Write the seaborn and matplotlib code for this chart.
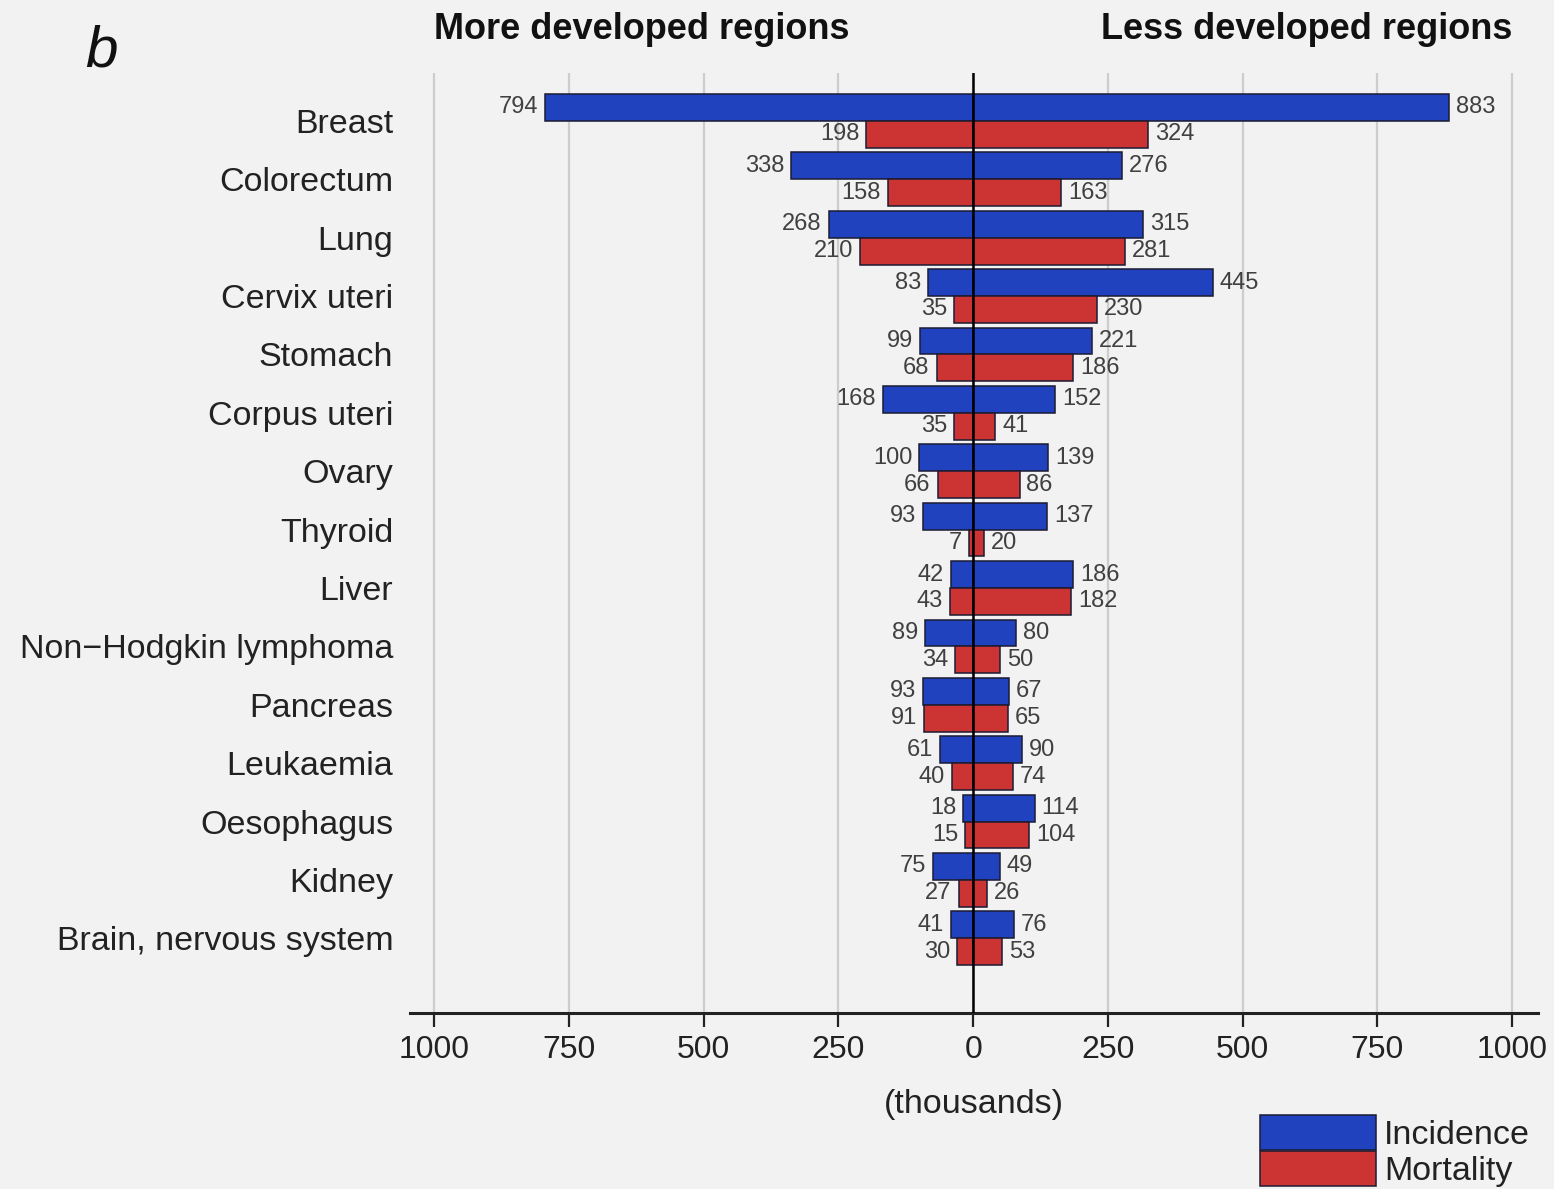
import matplotlib
matplotlib.use("Agg")
import matplotlib.pyplot as plt
import matplotlib.transforms as mtransforms
from matplotlib.patches import Patch
import pandas as pd
import seaborn as sns

# Cancer sites, women, new cases and deaths (thousands)
sites = ["Breast", "Colorectum", "Lung", "Cervix uteri", "Stomach", "Corpus uteri",
         "Ovary", "Thyroid", "Liver", "Non\u2212Hodgkin lymphoma", "Pancreas",
         "Leukaemia", "Oesophagus", "Kidney", "Brain, nervous system"]
more_incidence = [794, 338, 268, 83, 99, 168, 100, 93, 42, 89, 93, 61, 18, 75, 41]
more_mortality = [198, 158, 210, 35, 68, 35, 66, 7, 43, 34, 91, 40, 15, 27, 30]
less_incidence = [883, 276, 315, 445, 221, 152, 139, 137, 186, 80, 67, 90, 114, 49, 76]
less_mortality = [324, 163, 281, 230, 186, 41, 86, 20, 182, 50, 65, 74, 104, 26, 53]
measures = ["Incidence", "Mortality"]
x_ticks = [-1000, -750, -500, -250, 0, 250, 500, 750, 1000]

BLUE = "#2142BE"
RED = "#CC3434"
EDGE = "#1b1b33"
BG = "#F2F2F2"

sns.set_theme(style="white")
plt.rcParams["font.family"] = ["Liberation Sans", "DejaVu Sans"]

# Left side (more developed) is drawn with negative values
more_df = pd.DataFrame({
    "site": sites * 2,
    "measure": ["Incidence"] * len(sites) + ["Mortality"] * len(sites),
    "value": [-v for v in more_incidence] + [-v for v in more_mortality],
})
less_df = pd.DataFrame({
    "site": sites * 2,
    "measure": ["Incidence"] * len(sites) + ["Mortality"] * len(sites),
    "value": less_incidence + less_mortality,
})

fig = plt.figure(figsize=(15.54, 11.89), dpi=100, facecolor=BG)
ax = fig.add_axes([0.2638, 0.148, 0.7259, 0.7906], facecolor=BG)

palette = {"Incidence": BLUE, "Mortality": RED}
for df in (more_df, less_df):
    sns.barplot(data=df, x="value", y="site", hue="measure", hue_order=measures,
                order=sites, orient="h", palette=palette, width=0.92, dodge=True,
                edgecolor=EDGE, linewidth=1.1, saturation=1, legend=False,
                errorbar=None, ax=ax)

for container in ax.containers:
    ax.bar_label(container, fmt=lambda v: f"{abs(v):.0f}", padding=5,
                 fontsize=17, color="#404040")

ax.set_xlim(-1045, 1048)
ax.set_ylim(len(sites) - 1 + 1.28, -0.82)
ax.set_xticks(x_ticks)
ax.set_xticklabels([str(abs(t)) for t in x_ticks])
ax.set_xlabel("(thousands)", fontsize=24.5, color="#222222", labelpad=17)
ax.set_ylabel("")

ax.grid(axis="x", color="#CDCDCD", linewidth=1.6)
ax.grid(axis="y", visible=False)
ax.set_axisbelow(True)
ax.axvline(0, color="black", linewidth=1.8, zorder=5)

for side in ("top", "right", "left"):
    ax.spines[side].set_visible(False)
ax.spines["bottom"].set_color("#222222")
ax.spines["bottom"].set_linewidth(2.2)

ax.tick_params(axis="x", which="major", bottom=True, length=10, width=1.6,
               color="#222222", labelsize=23, labelcolor="#222222", pad=6)
ax.tick_params(axis="y", left=False, length=0, labelsize=24.5,
               labelcolor="#222222", pad=12)

# Region headings above each half
head = mtransforms.blended_transform_factory(ax.transData, ax.transAxes)
ax.text(-1000, 1.046, "More developed regions", transform=head, ha="left",
        va="center", fontsize=26, fontweight="bold", color="#111111")
ax.text(1000, 1.046, "Less developed regions", transform=head, ha="right",
        va="center", fontsize=26, fontweight="bold", color="#111111")

fig.text(0.065, 0.957, "b", fontsize=42, style="italic", color="#111111",
         ha="center", va="center")

handles = [Patch(facecolor=palette[m], edgecolor=EDGE, linewidth=1.1) for m in measures]
fig.legend(handles, measures, loc="upper left", bbox_to_anchor=(0.8108, 0.062),
           frameon=False, fontsize=24.5, handlelength=3.4, handleheight=1.2,
           handletextpad=0.25, labelspacing=0.0, borderpad=0.0, borderaxespad=0.0,
           labelcolor="#222222")

fig.savefig("out.png", dpi=100, facecolor=BG)
